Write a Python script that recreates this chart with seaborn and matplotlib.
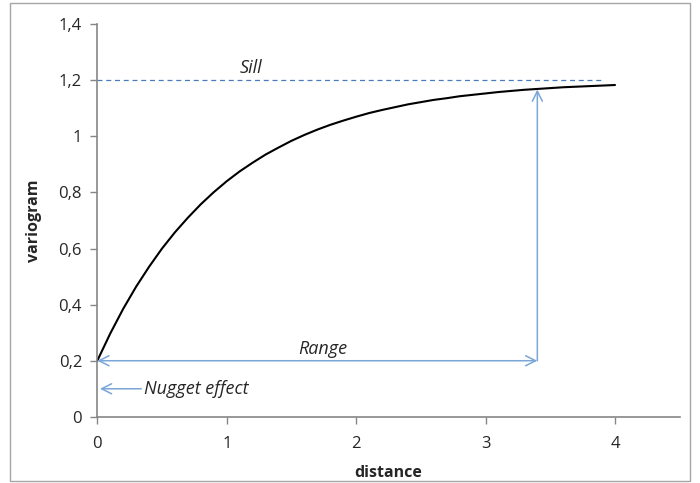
import matplotlib
matplotlib.use('Agg')
import matplotlib.pyplot as plt
import seaborn as sns
import pandas as pd
from matplotlib.patches import Rectangle

# values
distance = [0.0, 0.1, 0.2, 0.3, 0.4, 0.5, 0.6, 0.7, 0.8, 0.9,
            1.0, 1.1, 1.2, 1.3, 1.4, 1.5, 1.6, 1.7, 1.8, 1.9,
            2.0, 2.1, 2.2, 2.3, 2.4, 2.5, 2.6, 2.7, 2.8, 2.9,
            3.0, 3.1, 3.2, 3.3, 3.4, 3.5, 3.6, 3.7, 3.8, 3.9, 4.0]
variogram = [0.200, 0.297, 0.385, 0.464, 0.535, 0.600, 0.658, 0.710, 0.758, 0.801,
             0.840, 0.875, 0.906, 0.935, 0.960, 0.984, 1.005, 1.024, 1.041, 1.056,
             1.070, 1.083, 1.094, 1.104, 1.114, 1.122, 1.130, 1.136, 1.143, 1.148,
             1.153, 1.158, 1.162, 1.166, 1.169, 1.172, 1.175, 1.177, 1.179, 1.181, 1.183]
nugget = 0.2
sill = 1.2
range_dist = 3.4
range_top = 1.167
sill_end = 3.9

y_ticks = [0, 0.2, 0.4, 0.6, 0.8, 1.0, 1.2, 1.4]
y_labels = ['0', '0,2', '0,4', '0,6', '0,8', '1', '1,2', '1,4']
x_ticks = [0, 1, 2, 3, 4]

df = pd.DataFrame({'distance': distance, 'variogram': variogram})

sns.set_style('white')
plt.rcParams['font.family'] = ['Open Sans', 'DejaVu Sans']

fig = plt.figure(figsize=(7, 4.83), dpi=100)
ax = fig.add_axes([0.139, 0.137, 0.832, 0.813])

blue = '#4a7ebb'
arrow_blue = '#7aa6d8'

sns.lineplot(data=df, x='distance', y='variogram', color='black', linewidth=1.5, ax=ax)

# sill line
ax.plot([0, sill_end], [sill, sill], color=blue, linestyle=(0, (4, 3)), linewidth=0.9)
ax.text(1.19, sill + 0.045, 'Sill', style='italic', fontsize=13, ha='center', va='center')

# range arrows
ax.annotate('', xy=(range_dist, nugget), xytext=(0, nugget),
            arrowprops=dict(arrowstyle='<->', color=arrow_blue, lw=1.1,
                            shrinkA=0, shrinkB=0, mutation_scale=18))
ax.annotate('', xy=(range_dist, range_top), xytext=(range_dist, nugget),
            arrowprops=dict(arrowstyle='->', color=arrow_blue, lw=1.1,
                            shrinkA=0, shrinkB=0, mutation_scale=18))
ax.text(1.74, nugget + 0.042, 'Range', style='italic', fontsize=13, ha='center', va='center')

# nugget arrow
ax.annotate('', xy=(0.02, nugget / 2), xytext=(0.34, nugget / 2),
            arrowprops=dict(arrowstyle='->', color=arrow_blue, lw=1.1,
                            shrinkA=0, shrinkB=0, mutation_scale=18))
ax.text(0.36, nugget / 2, 'Nugget effect', style='italic', fontsize=13, ha='left', va='center')

ax.set_xlim(0, 4.5)
ax.set_ylim(0, 1.4)
ax.set_xticks(x_ticks)
ax.set_xticklabels([str(t) for t in x_ticks])
ax.set_yticks(y_ticks)
ax.set_yticklabels(y_labels)
ax.tick_params(axis='both', direction='out', length=5, width=1, color='#868686',
               labelsize=12, pad=6, left=True, bottom=True)
ax.tick_params(axis='x', pad=9)
for s in ['top', 'right']:
    ax.spines[s].set_visible(False)
for s in ['left', 'bottom']:
    ax.spines[s].set_color('#868686')
    ax.spines[s].set_linewidth(1.2)

ax.set_xlabel('distance', fontweight='bold', fontsize=11.5, labelpad=9)
ax.set_ylabel('variogram', fontweight='bold', fontsize=11.5, labelpad=12)

# outer chart border
fig.patches.append(Rectangle((10 / 700, 2 / 483), 680 / 700, 478 / 483,
                             transform=fig.transFigure, fill=False,
                             edgecolor='#a6a6a6', linewidth=1))

fig.savefig('out.png', dpi=100)
